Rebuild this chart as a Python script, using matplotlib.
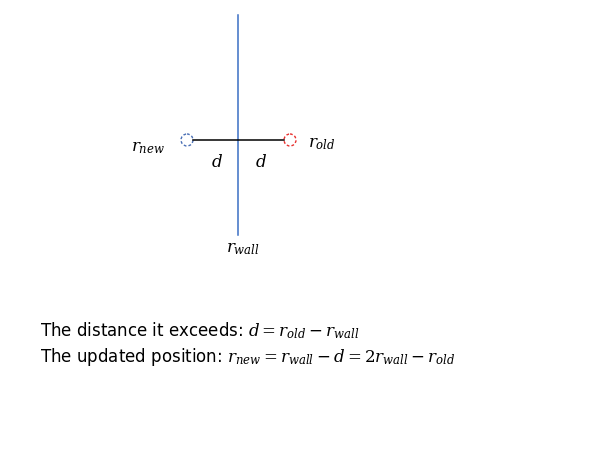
import matplotlib.pyplot as plt
from matplotlib.patches import Circle

plt.rcParams['mathtext.fontset'] = 'dejavuserif'

# diagram coordinates in pixels (608 x 460 canvas)
wall_x = 238
wall_y = [16, 236]
link_y = 141
link_x = [193, 284]
circle_x = [187, 290]
circle_colors = ["#4a6fb5", "#e8312f"]
circle_r = 6

labels = [
    (r"$r_{new}$", 148, 147),
    (r"$r_{old}$", 322, 143),
    (r"$d$", 217, 162),
    (r"$d$", 261, 162),
    (r"$r_{wall}$", 243, 248),
]
lines = [
    r"The distance it exceeds: $d = r_{old} - r_{wall}$",
    r"The updated position: $r_{new} = r_{wall} - d = 2r_{wall} - r_{old}$",
]
line_y = [331, 357]

fig = plt.figure(figsize=(6.08, 4.6), dpi=100)
ax = fig.add_axes([0, 0, 1, 1])
ax.set_xlim(0, 608)
ax.set_ylim(460, 0)
ax.axis("off")

ax.plot([wall_x, wall_x], wall_y, color="#3a6fc4", lw=1.1)
ax.plot(link_x, [link_y, link_y], color="black", lw=1.1)
for cx, col in zip(circle_x, circle_colors):
    ax.add_patch(Circle((cx, link_y), circle_r, fill=False, ec=col, ls=(0, (2, 1.5)), lw=1))

for txt, x, y in labels:
    ax.text(x, y, txt, ha="center", va="center", fontsize=12)

for txt, y in zip(lines, line_y):
    ax.text(40, y, txt, ha="left", va="center", fontsize=12, family="DejaVu Sans")

fig.savefig("out.png", dpi=100)
